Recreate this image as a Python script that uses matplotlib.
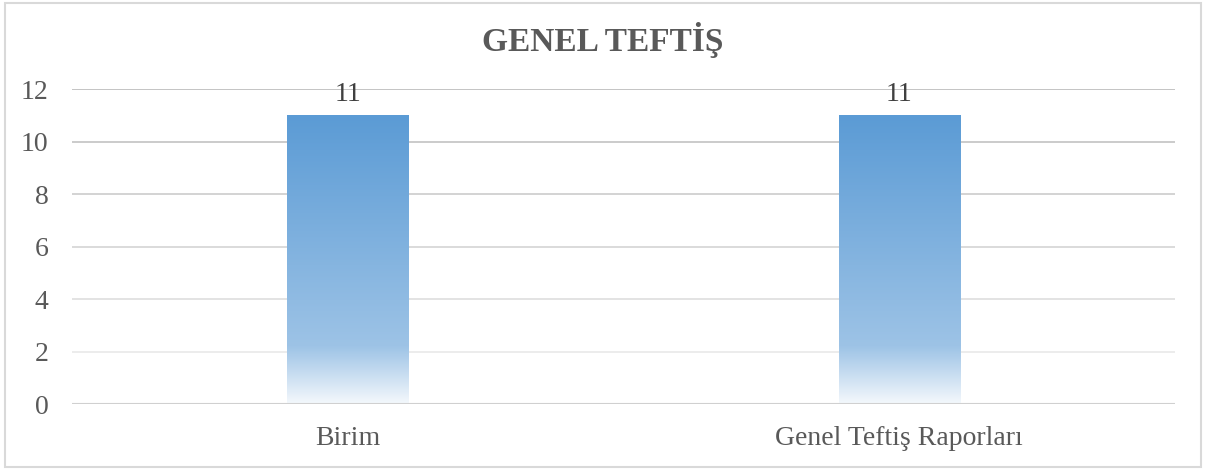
import numpy as np
import matplotlib

matplotlib.use("Agg")
import matplotlib.pyplot as plt
from matplotlib.colors import LinearSegmentedColormap
from matplotlib.patches import Rectangle

categories = ["Birim", "Genel Teftiş Raporları"]
values = [11, 11]
title = "GENEL TEFTİŞ"
y_ticks = [0, 2, 4, 6, 8, 10, 12]

plt.rcParams["font.family"] = ["Liberation Serif", "DejaVu Serif"]

fig = plt.figure(figsize=(12.06, 4.70), dpi=100)
ax = fig.add_axes([0.0597, 0.1404, 0.9146, 0.6702])

# bar gradient: white at the bottom, blue at the top
bar_cmap = LinearSegmentedColormap.from_list(
    "bar", [(0.0, "#f4f8fc"), (0.2, "#9dc3e6"), (1.0, "#5b9bd5")]
)
grad = np.linspace(0, 1, 256).reshape(-1, 1)
width = 0.22
x = np.arange(len(categories))
for xi, v in zip(x, values):
    im = ax.imshow(grad, cmap=bar_cmap, origin="lower", aspect="auto",
                   extent=[xi - width / 2, xi + width / 2, 0, v], zorder=2)
    clip = Rectangle((xi - width / 2, 0), width, v, transform=ax.transData)
    im.set_clip_path(clip)
    ax.text(xi, v + 0.3, str(v), ha="center", va="bottom", fontsize=20, color="#404040")

# gridlines fade from grey at the top to almost white at the bottom
grid_cmap = LinearSegmentedColormap.from_list("grid", ["#f2f2f2", "#bfbfbf"])
for t in y_ticks[1:]:
    ax.axhline(t, color=grid_cmap(t / 12), lw=1.3, zorder=1)
ax.axhline(0, color="#d0d0d0", lw=1.5, zorder=3)

ax.set_xlim(-0.5, 1.5)
ax.set_ylim(0, 12)
ax.set_yticks(y_ticks)
ax.set_xticks(x)
ax.set_xticklabels(categories)
ax.tick_params(length=0, labelsize=20, labelcolor="#595959")
ax.tick_params(axis="y", pad=17)
ax.tick_params(axis="x", pad=16)
for s in ax.spines.values():
    s.set_visible(False)

fig.text(0.5, 0.915, title, ha="center", va="center", fontsize=24,
         fontweight="bold", color="#595959")

fig.add_artist(Rectangle((0.004, 0.006), 0.992, 0.988, transform=fig.transFigure,
                         fill=False, edgecolor="#d9d9d9", lw=1.5))

fig.savefig("out.png", dpi=100)
